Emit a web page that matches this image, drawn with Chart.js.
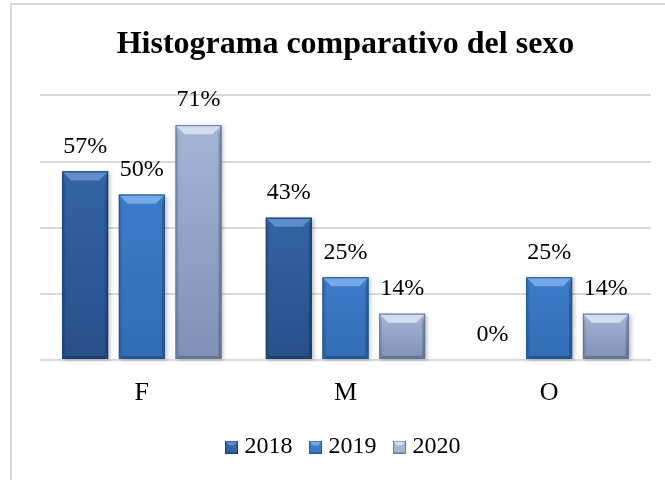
<!DOCTYPE html>
<html>
<head>
<meta charset="utf-8">
<script src="https://cdn.jsdelivr.net/npm/chart.js@4/dist/chart.umd.min.js"></script>
<style>
  body { margin: 0; background: #fff; }
  #marco {
    position: absolute; left: 10px; top: 3px; width: 700px; height: 520px;
    border-left: 2px solid #d9d9d9; border-top: 2px solid #d9d9d9;
  }
  #lienzo { position: absolute; left: 0; top: 0; width: 665px; height: 480px; }
</style>
</head>
<body>
<div id="marco"></div>
<div id="lienzo"><canvas id="grafico" width="665" height="480"></canvas></div>
<script>
const categorias = ['F', 'M', 'O'];
const anios = ['2018', '2019', '2020'];
const valores2018 = [57, 43, 0];
const valores2019 = [50, 25, 25];
const valores2020 = [71, 14, 14];
const ticksY = [0, 20, 40, 60, 80];

const fuente = "'Liberation Serif', 'Times New Roman', serif";

// colores de cada serie: arriba/abajo (cuerpo), claro (bisel superior), oscuro (bordes)
const colores = [
  { arriba: '#3264a4', abajo: '#28508a', claro: '#5f8ccb', oscuro: '#1e3f6e' },
  { arriba: '#3d7cc8', abajo: '#326cb4', claro: '#74a8e8', oscuro: '#255590' },
  { arriba: '#a5b5d6', abajo: '#7f90b6', claro: '#d3ddf0', oscuro: '#65779c' }
];

function dibujarBisel(ctx, x, y, w, h, c) {
  const b = Math.min(9, h / 2, w / 2);
  ctx.save();
  // sombra suave
  ctx.shadowColor = 'rgba(0,0,0,0.25)';
  ctx.shadowBlur = 4;
  ctx.shadowOffsetX = 2;
  ctx.shadowOffsetY = 1;
  const g = ctx.createLinearGradient(0, y, 0, y + h);
  g.addColorStop(0, c.arriba);
  g.addColorStop(1, c.abajo);
  ctx.fillStyle = g;
  ctx.fillRect(x, y, w, h);
  ctx.restore();

  ctx.save();
  // bisel superior
  ctx.beginPath();
  ctx.moveTo(x, y);
  ctx.lineTo(x + w, y);
  ctx.lineTo(x + w - b, y + b);
  ctx.lineTo(x + b, y + b);
  ctx.closePath();
  ctx.fillStyle = c.claro;
  ctx.fill();
  // lado izquierdo
  ctx.beginPath();
  ctx.moveTo(x, y);
  ctx.lineTo(x + 3, y + b);
  ctx.lineTo(x + 3, y + h - 3);
  ctx.lineTo(x, y + h);
  ctx.closePath();
  ctx.fillStyle = 'rgba(0,0,0,0.10)';
  ctx.fill();
  // lado derecho
  ctx.beginPath();
  ctx.moveTo(x + w, y);
  ctx.lineTo(x + w - 3, y + b);
  ctx.lineTo(x + w - 3, y + h - 3);
  ctx.lineTo(x + w, y + h);
  ctx.closePath();
  ctx.fillStyle = 'rgba(0,0,0,0.2)';
  ctx.fill();
  // borde inferior
  ctx.beginPath();
  ctx.moveTo(x, y + h);
  ctx.lineTo(x + 3, y + h - 3);
  ctx.lineTo(x + w - 3, y + h - 3);
  ctx.lineTo(x + w, y + h);
  ctx.closePath();
  ctx.fillStyle = 'rgba(0,0,0,0.2)';
  ctx.fill();
  // contorno
  ctx.strokeStyle = c.oscuro;
  ctx.lineWidth = 1;
  ctx.strokeRect(x + 0.5, y + 0.5, w - 1, h - 1);
  ctx.restore();
}

// iconos de leyenda con el mismo bisel
function icono(c) {
  const cv = document.createElement('canvas');
  cv.width = 13; cv.height = 13;
  const cx = cv.getContext('2d');
  cx.fillStyle = c.arriba;
  cx.fillRect(0, 0, 13, 13);
  cx.beginPath();
  cx.moveTo(0, 0); cx.lineTo(13, 0); cx.lineTo(9, 5); cx.lineTo(4, 5);
  cx.closePath();
  cx.fillStyle = c.claro;
  cx.fill();
  cx.strokeStyle = c.oscuro;
  cx.strokeRect(0.5, 0.5, 12, 12);
  return cv;
}

const biselPlugin = {
  id: 'bisel',
  afterDatasetsDraw(chart) {
    const ctx = chart.ctx;
    chart.data.datasets.forEach((ds, i) => {
      const meta = chart.getDatasetMeta(i);
      meta.data.forEach((bar, j) => {
        const p = bar.getProps(['x', 'y', 'base', 'width'], true);
        const h = p.base - p.y;
        if (h > 0) dibujarBisel(ctx, p.x - p.width / 2, p.y, p.width, h, colores[i]);
        // etiqueta de valor
        ctx.save();
        ctx.font = '24px ' + fuente;
        ctx.fillStyle = '#000';
        ctx.textAlign = 'center';
        ctx.textBaseline = 'middle';
        ctx.fillText(ds.data[j] + '%', p.x, p.y - 25);
        ctx.restore();
      });
    });
  }
};

const series = [valores2018, valores2019, valores2020];

new Chart(document.getElementById('grafico'), {
  type: 'bar',
  data: {
    labels: categorias,
    datasets: series.map((v, i) => ({
      label: anios[i],
      data: v,
      backgroundColor: colores[i].arriba,
      borderWidth: 0,
      categoryPercentage: 0.835,
      barPercentage: 0.81,
      pointStyle: icono(colores[i])
    }))
  },
  options: {
    responsive: false,
    animation: false,
    layout: { padding: { top: 16, left: 40, right: 14, bottom: 11 } },
    scales: {
      x: {
        grid: { display: false },
        border: { display: false },
        ticks: { color: '#000', font: { family: fuente, size: 26 }, padding: 10 },
        afterFit(axis) { axis.height = 53; }
      },
      y: {
        min: ticksY[0],
        max: ticksY[ticksY.length - 1],
        afterBuildTicks(axis) { axis.ticks = ticksY.map(v => ({ value: v })); },
        ticks: { display: false },
        border: { display: false },
        grid: { color: '#d9d9d9', lineWidth: 2, drawTicks: false }
      }
    },
    plugins: {
      title: {
        display: true,
        text: 'Histograma comparativo del sexo',
        color: '#000',
        font: { family: fuente, size: 32, weight: 'bold' },
        padding: { top: 10, bottom: 31 }
      },
      legend: {
        position: 'bottom',
        labels: {
          usePointStyle: true,
          pointStyleWidth: 2,
          boxHeight: 13,
          padding: 22,
          color: '#000',
          font: { family: fuente, size: 24 }
        }
      },
      tooltip: { enabled: false }
    }
  },
  plugins: [biselPlugin]
});
</script>
</body>
</html>
